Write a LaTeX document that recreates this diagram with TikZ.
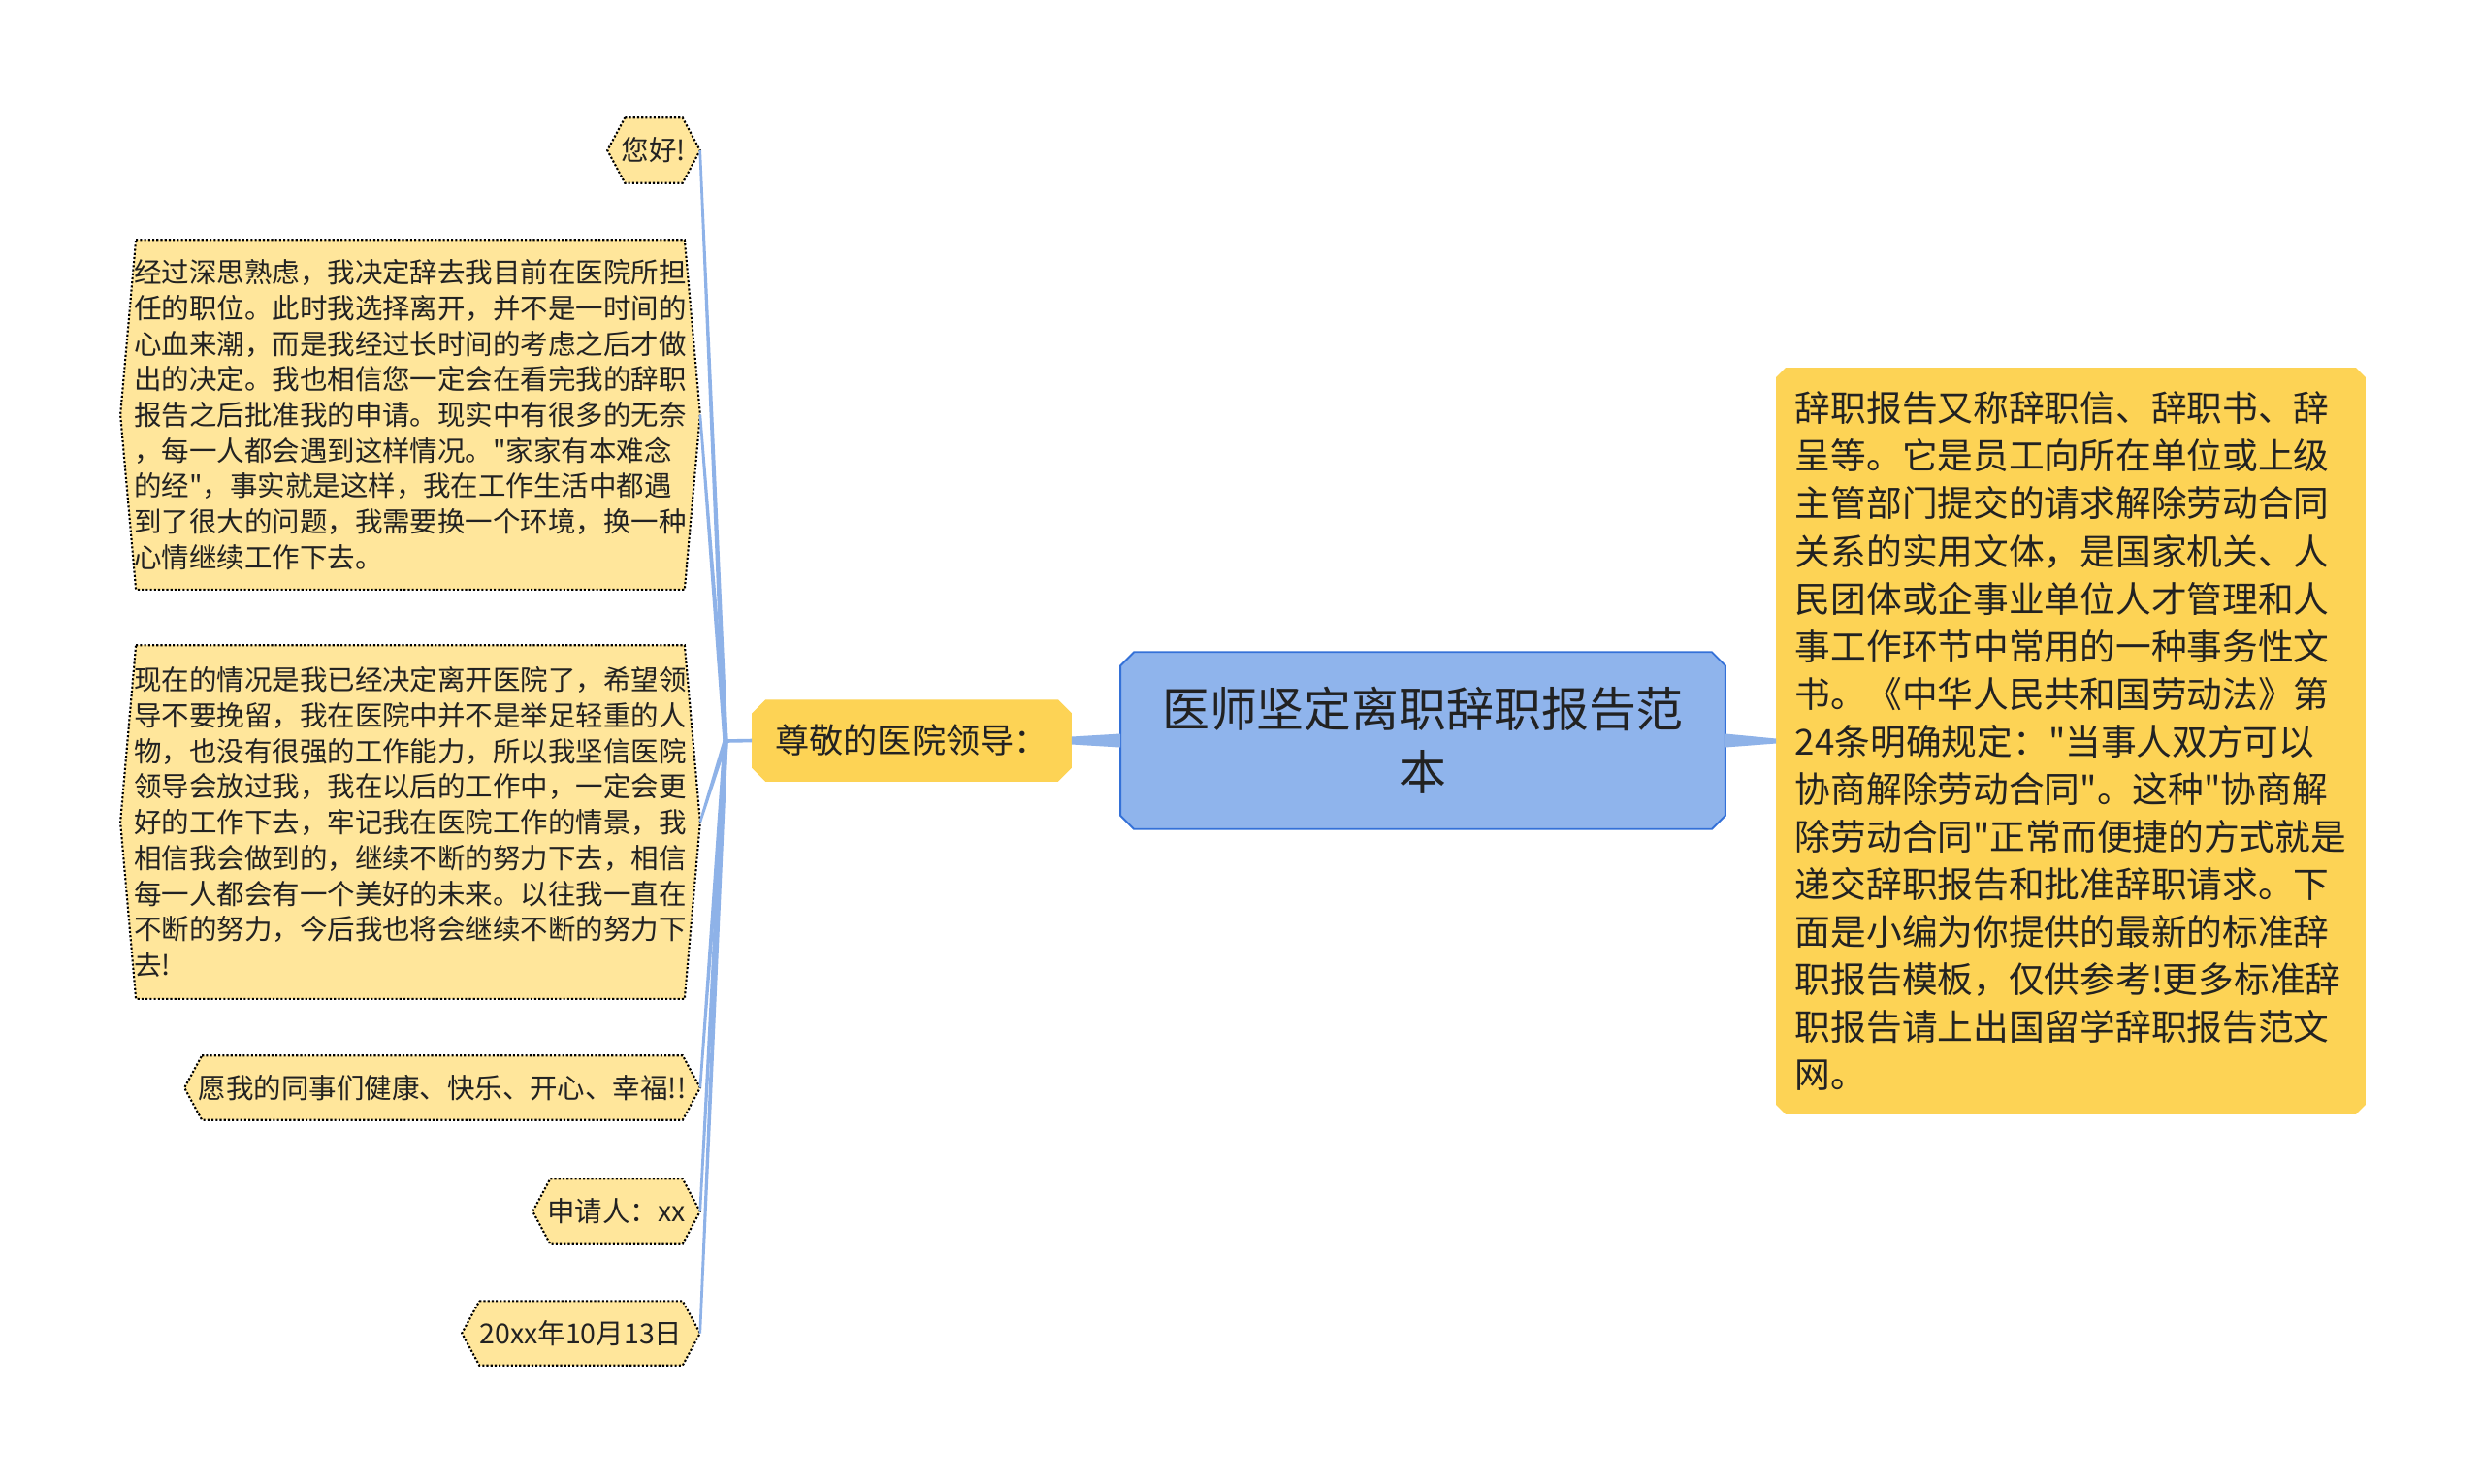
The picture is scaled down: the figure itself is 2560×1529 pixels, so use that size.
\documentclass[tikz,border=0pt]{standalone}
\usepackage{fontspec}
\setmainfont{Noto Sans CJK SC}[Ligatures=TeXOff]
\usetikzlibrary{calc,backgrounds}
\definecolor{leafY}{HTML}{FFE69B}
\definecolor{darkY}{HTML}{FDD355}
\definecolor{centerB}{HTML}{8FB4EC}
\definecolor{centerBorder}{HTML}{3471D8}
\definecolor{connB}{HTML}{8EB2E8}
\definecolor{txt}{HTML}{222222}

\tikzset{
  every node/.style={text=txt, inner sep=0pt},
  leafnode/.style={font=\fontsize{8.1pt}{10.44pt}\selectfont, align=left},
  leafshape/.style={fill=leafY, draw=black, line width=0.6pt, dash pattern=on 0.6pt off 0.6pt},
  branchnode/.style={font=\fontsize{10pt}{13pt}\selectfont, align=center},
  branchshape/.style={fill=darkY},
  rootnode/.style={font=\fontsize{13.9pt}{18.5pt}\selectfont, align=center},
  rootshape/.style={fill=centerB, draw=centerBorder, line width=0.55pt},
  infonode/.style={font=\fontsize{10.44pt}{13.94pt}\selectfont, align=left},
  infoshape/.style={fill=darkY},
  conn/.style={fill=connB}
}

\newcommand\hexbox[2]{%
  \begin{pgfonlayer}{background}
  \path[leafshape] ([xshift=#2]#1.north west) -- ([xshift=-#2]#1.north east) -- (#1.east)
    -- ([xshift=-#2]#1.south east) -- ([xshift=#2]#1.south west) -- (#1.west) -- cycle;
  \end{pgfonlayer}}

\newcommand\chamfbox[3]{%
  \begin{pgfonlayer}{background}
  \path[#3] ([xshift=#2]#1.north west) -- ([xshift=-#2]#1.north east) -- ([yshift=-#2]#1.north east)
    -- ([yshift=#2]#1.south east) -- ([xshift=-#2]#1.south east) -- ([xshift=#2]#1.south west)
    -- ([yshift=#2]#1.south west) -- ([yshift=-#2]#1.north west) -- cycle;
  \end{pgfonlayer}}

\newcommand\taper[4]{%
  \fill[conn] ($(#1)!#2!90:(#3)$) -- ($(#1)!#2!-90:(#3)$) -- ($(#3)!#4!90:(#1)$) -- ($(#3)!#4!-90:(#1)$) -- cycle;}

\begin{document}
\begin{tikzpicture}[x=0.01cm, y=-0.01cm]
\useasboundingbox (0,0) rectangle (2560,1529);
\begin{pgfonlayer}{background}
\fill[white] (0,0) rectangle (2560,1529);
\end{pgfonlayer}

% leaves
\node[leafnode, minimum width=0.94cm, minimum height=0.66cm] (n1) at (674,155) {您好!};
\hexbox{n1}{0.18cm}

\node[leafnode, minimum width=5.96cm, minimum height=3.59cm] (n2) at (423,427.5) {经过深思熟虑，我决定辞去我目前在医院所担\\任的职位。此时我选择离开，并不是一时间的\\心血来潮，而是我经过长时间的考虑之后才做\\出的决定。我也相信您一定会在看完我的辞职\\报告之后批准我的申请。现实中有很多的无奈\\，每一人都会遇到这样情况。"家家有本难念\\的经"，事实就是这样，我在工作生活中都遇\\到了很大的问题，我需要换一个环境，换一种\\心情继续工作下去。};
\hexbox{n2}{0.16cm}

\node[leafnode, minimum width=5.96cm, minimum height=3.63cm] (n3) at (423,847.5) {现在的情况是我已经决定离开医院了，希望领\\导不要挽留，我在医院中并不是举足轻重的人\\物，也没有很强的工作能力，所以我坚信医院\\领导会放过我，我在以后的工作中，一定会更\\好的工作下去，牢记我在医院工作的情景，我\\相信我会做到的，继续不断的努力下去，相信\\每一人都会有一个美好的未来。以往我一直在\\不断的努力，今后我也将会继续不断的努力下\\去!};
\hexbox{n3}{0.16cm}

\node[leafnode, minimum width=5.30cm, minimum height=0.65cm] (n4) at (456,1121.5) {愿我的同事们健康、快乐、开心、幸福!!};
\hexbox{n4}{0.18cm}

\node[leafnode, minimum width=1.71cm, minimum height=0.66cm] (n5) at (635.5,1249) {申请人：xx};
\hexbox{n5}{0.18cm}

\node[leafnode, minimum width=2.44cm, minimum height=0.65cm] (n6) at (599,1374.5) {20xx年10月13日};
\hexbox{n6}{0.18cm}

% branch
\node[branchnode, minimum width=3.28cm, minimum height=0.83cm] (p) at (940,763.5) {尊敬的医院领导：};
\chamfbox{p}{0.14cm}{branchshape}

% root
\node[rootnode, minimum width=6.22cm, minimum height=1.81cm] (c) at (1467,763.5) {医师坚定离职辞职报告范\\本};
\chamfbox{c}{0.14cm}{rootshape}

% info
\node[infonode, minimum width=6.06cm, minimum height=7.68cm] (r) at (2135,764) {辞职报告又称辞职信、辞职书、辞\\呈等。它是员工向所在单位或上级\\主管部门提交的请求解除劳动合同\\关系的实用文体，是国家机关、人\\民团体或企事业单位人才管理和人\\事工作环节中常用的一种事务性文\\书。《中华人民共和国劳动法》第\\24条明确规定："当事人双方可以\\协商解除劳动合同"。这种"协商解\\除劳动合同"正常而便捷的方式就是\\递交辞职报告和批准辞职请求。下\\面是小编为你提供的最新的标准辞\\职报告模板，仅供参考!更多标准辞\\职报告请上出国留学辞职报告范文\\网。};
\chamfbox{r}{0.10cm}{infoshape}

% connectors
\coordinate (j) at (748,764);
\taper{p.west}{0.018cm}{j}{0.018cm}
\foreach \n in {n1,n2,n3,n4,n5,n6} {\taper{j}{0.026cm}{\n.east}{0.013cm}}
\taper{c.west}{0.07cm}{p.east}{0.04cm}
\taper{c.east}{0.07cm}{r.west}{0.025cm}
\end{tikzpicture}
\end{document}
